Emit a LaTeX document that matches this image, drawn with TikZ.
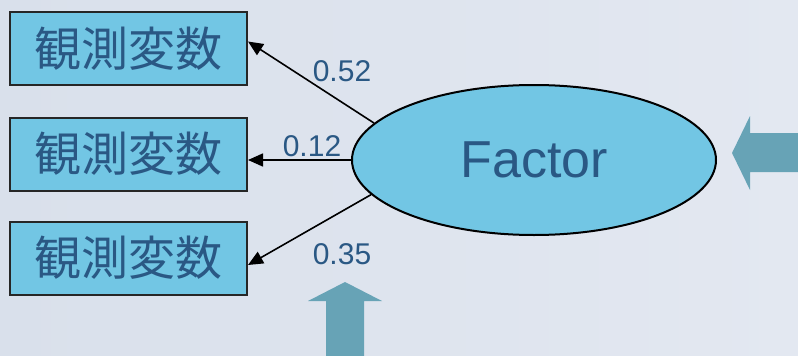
\documentclass[tikz,border=0pt]{standalone}
\usepackage{fontspec}
\setmainfont{Liberation Sans}
\newfontfamily\cjk{Noto Sans CJK JP}
\usetikzlibrary{arrows.meta,shapes.geometric}
\definecolor{bgA}{HTML}{D9E0EB}
\definecolor{bgB}{HTML}{E3E8F1}
\definecolor{boxfill}{HTML}{72C6E4}
\definecolor{ink}{HTML}{2A5884}
\definecolor{blockarrow}{HTML}{67A3B6}
\tikzset{
  varbox/.style={draw=black!85, line width=2pt, fill=boxfill, text=ink,
    minimum width=237pt, minimum height=73pt, inner sep=0pt,
    font=\cjk\fontsize{47}{47}\selectfont},
  latent/.style={ellipse, draw=black, line width=2pt, fill=boxfill, text=ink,
    minimum width=364pt, minimum height=150pt, inner sep=0pt,
    font=\fontsize{52}{52}\selectfont},
  loading/.style={draw=black, line width=1.6pt, -{Triangle[length=15pt,width=13pt]}},
  weight/.style={text=ink, inner sep=0pt, font=\fontsize{30}{30}\selectfont},
  bigarrow/.style={fill=blockarrow, draw=none}
}
\begin{document}
\begin{tikzpicture}[x=1pt,y=-1pt]
  % background
  \shade[left color=bgA, right color=bgB] (0,0) rectangle (798,356);
  \useasboundingbox (0,0) rectangle (798,356);

  % observed variables
  \node[varbox] (v1) at (128.5,48.5) {観測変数};
  \node[varbox] (v2) at (128.5,154) {観測変数};
  \node[varbox] (v3) at (128.5,258) {観測変数};

  % latent factor
  \node[latent] (f) at (534,160) {Factor};

  % loadings
  \draw[loading] (f.167.6) -- ([yshift=7pt]v1.east);
  \draw[loading] (f.west) -- (f.west -| v2.east);
  \draw[loading] (f.192.3) -- ([yshift=-7pt]v3.east);

  \node[weight] (w1) at (342,71) {0.52};
  \node[weight] (w2) at (312,146) {0.12};
  \node[weight] (w3) at (342,254) {0.35};

  % block arrows
  \fill[bigarrow] (798,133) -- (750,133) -- (750,116) -- (732,153)
    -- (750,190) -- (750,172) -- (798,172) -- cycle;
  \fill[bigarrow] (326,356) -- (326,301) -- (308,301) -- (345,282)
    -- (382,301) -- (364,301) -- (364,356) -- cycle;
\end{tikzpicture}
\end{document}
